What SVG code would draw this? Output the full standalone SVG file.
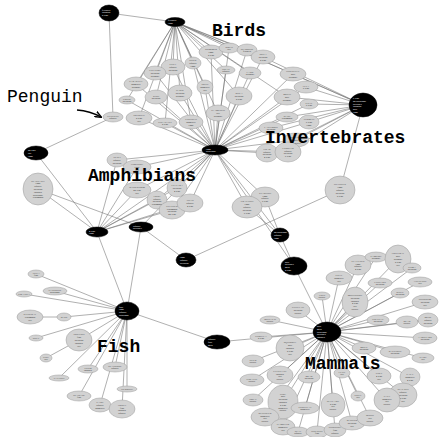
<svg xmlns="http://www.w3.org/2000/svg" width="439" height="437" viewBox="0 0 439 437">
<style>
.e{stroke:#6e6e6e;stroke-width:.55;fill:none}
.n ellipse{fill:#d2d2d2;stroke:#9a9a9a;stroke-width:.5}
.n text{font-family:"Liberation Serif",serif;font-size:2.6px;fill:#303030;text-anchor:middle}
.h ellipse{fill:#000;stroke:#000;stroke-width:.5}
.h text{font-family:"Liberation Serif",serif;font-size:2.6px;fill:#fff}
.lab{font-family:"Liberation Mono","DejaVu Sans Mono",monospace;font-size:18px;font-weight:bold;fill:#000}
.lab2{font-family:"Liberation Mono","DejaVu Sans Mono",monospace;font-size:18px;fill:#000}
</style>
<defs>
<marker id="ah" viewBox="0 0 10 10" refX="9" refY="5" markerWidth="7" markerHeight="7" markerUnits="userSpaceOnUse" orient="auto"><path d="M0 1L10 5L0 9" fill="none" stroke="#000" stroke-width="2"/></marker>
</defs>
<rect width="439" height="437" fill="#fff"/>
<g id="connectors">
<path class="e" d="M175 22L211 52M175 22L229 48M175 22L247 50M175 22L263 57M175 22L226 70M175 22L250 73M175 22L193 63M175 22L173 67M175 22L155 73M175 22L136 84M175 22L180 93M175 22L205 87M175 22L239 96M175 22L156 97M175 22L127 100M175 22L139 118M175 22L165 123M175 22L191 122M175 22L218 113"/>
<path class="e" d="M211 52L215 150M229 48L215 150M247 50L215 150M263 57L215 150M226 70L215 150M250 73L215 150M193 63L215 150M173 67L215 150M155 73L215 150M136 84L215 150M180 93L215 150M205 87L215 150M239 96L215 150M156 97L215 150M127 100L215 150M139 118L215 150M165 123L215 150M191 122L215 150M218 113L215 150"/>
<path class="e" d="M175 22L363 105M263 57L363 105M175 22L293 74M175 22L287 97M109 13L175 22M109 13L113 117M113 117L36 153"/>
<path class="e" d="M363 105L293 74M363 105L306 87M363 105L287 97M363 105L309 104M363 105L287 117M363 105L309 122M363 105L271 128M363 105L296 140M363 105L267 153M363 105L288 152"/>
<path class="e" d="M293 74L215 150M306 87L215 150M287 97L215 150M309 104L215 150M287 117L215 150M309 122L215 150M271 128L215 150M296 140L215 150M267 153L215 150M288 152L215 150"/>
<path class="e" d="M363 105L340 190M340 190L186 260M215 150L265 197M215 150L247 207M265 197L280 235M247 207L280 235M215 150L280 235M215 150L294 266M280 235L294 266M294 266L327 332"/>
<path class="e" d="M97 232L117 160M97 232L137 167M97 232L137 190M97 232L157 200M97 232L177 188M97 232L172 210M97 232L190 203M97 232L215 150M117 160L215 150M137 167L215 150M137 190L215 150M157 200L215 150M177 188L215 150M172 210L215 150M190 203L215 150M141 227L215 150"/>
<path class="e" d="M36 153L97 232M38 189L97 232M38 189L141 227M141 227L186 260M97 232L127 311M141 227L127 311M127 311L217 342M217 342L327 332"/>
<path class="e" d="M127 311L36 274M127 311L55 291M127 311L24 294M127 311L64 317M64 317L30 317M127 311L36 338M127 311L79 340M79 340L46 358M127 311L59 378M127 311L88 369M127 311L115 367M127 311L127 389M127 311L79 396M127 311L100 405M127 311L122 409"/>
<path class="e" d="M327 332L358 265M327 332L376 257M327 332L398 259M327 332L412 268M327 332L339 278M327 332L380 283M327 332L420 282M327 332L355 302M327 332L322 296M327 332L400 293M327 332L425 302M327 332L378 320M327 332L407 322M327 332L428 320M327 332L298 310M327 332L270 320M327 332L425 338M327 332L261 337M327 332L290 348M327 332L364 348M327 332L395 352M327 332L423 358M327 332L253 361M327 332L280 375M327 332L252 380M327 332L309 377M327 332L342 373M327 332L379 376M327 332L410 377M327 332L403 395M327 332L387 400M327 332L253 400M327 332L283 402M327 332L358 396M327 332L333 405M327 332L305 408M327 332L265 417M327 332L283 427M327 332L298 432M327 332L317 432M327 332L335 430M327 332L352 423M327 332L370 418M398 259L412 268M407 322L428 320"/>
<path d="M77 110Q90 111 101 117" fill="none" stroke="#000" stroke-width="1.4" marker-end="url(#ah)"/>
</g>
<g id="hub-a" class="h"><ellipse cx="109" cy="13" rx="10" ry="8"/><text x="102" y="10.5">feathers<tspan x="102" dy="2.8">airborne</tspan><tspan x="102" dy="2.8">2 legs</tspan></text></g>
<g id="hub-b" class="h"><ellipse cx="175" cy="22" rx="10" ry="4.5"/><text x="168" y="21">feathers<tspan x="168" dy="2.8">eggs</tspan></text></g>
<g id="hub-c" class="h"><ellipse cx="363" cy="105" rx="14" ry="12"/><text x="353" y="99">6 legs<tspan x="353" dy="2.8">no backbone</tspan><tspan x="353" dy="2.8">breathes</tspan><tspan x="353" dy="2.8">airborne</tspan><tspan x="353" dy="2.8">hair</tspan><tspan x="353" dy="2.8">eggs</tspan></text></g>
<g id="hub-d" class="h"><ellipse cx="36" cy="153" rx="12" ry="7"/><text x="28" y="151">no legs<tspan x="28" dy="2.8">tail</tspan><tspan x="28" dy="2.8">eggs</tspan></text></g>
<g id="hub-e" class="h"><ellipse cx="97" cy="232" rx="11" ry="5"/><text x="89" y="231.5">4 legs<tspan x="89" dy="2.8">eggs</tspan></text></g>
<g id="hub-f" class="h"><ellipse cx="141" cy="227" rx="12" ry="5"/><text x="133" y="226.5">aquatic<tspan x="133" dy="2.8">breathes</tspan></text></g>
<g id="hub-g" class="h"><ellipse cx="186" cy="260" rx="10" ry="7"/><text x="180" y="258">eggs<tspan x="180" dy="2.8">aquatic</tspan><tspan x="180" dy="2.8">predator</tspan></text></g>
<g id="hub-h" class="h"><ellipse cx="280" cy="235" rx="9" ry="7"/><text x="274" y="233">no backbone<tspan x="274" dy="2.8">aquatic</tspan><tspan x="274" dy="2.8">eggs</tspan></text></g>
<g id="hub-i" class="h"><ellipse cx="294" cy="266" rx="13" ry="9"/><text x="285" y="262.5">hair<tspan x="285" dy="2.8">breathes</tspan><tspan x="285" dy="2.8">milk</tspan><tspan x="285" dy="2.8">4 legs</tspan></text></g>
<g id="hub-fish" class="h"><ellipse cx="127" cy="311" rx="12" ry="9"/><text x="119" y="307.5">fins<tspan x="119" dy="2.8">eggs</tspan><tspan x="119" dy="2.8">aquatic</tspan><tspan x="119" dy="2.8">backbone</tspan></text></g>
<g id="hub-k" class="h"><ellipse cx="217" cy="342" rx="13" ry="7"/><text x="208" y="340">aquatic<tspan x="208" dy="2.8">fins</tspan><tspan x="208" dy="2.8">milk</tspan></text></g>
<g id="hub-mammals" class="h"><ellipse cx="327" cy="332" rx="14" ry="10"/><text x="317" y="327">hair<tspan x="317" dy="2.8">milk</tspan><tspan x="317" dy="2.8">backbone</tspan><tspan x="317" dy="2.8">breathes</tspan><tspan x="317" dy="2.8">toothed</tspan></text></g>
<g id="hub-central" class="h"><ellipse cx="215" cy="150" rx="13" ry="5"/><text x="206" y="149.5">eggs<tspan x="206" dy="2.8">backbone</tspan></text></g>
<g id="skimmer" class="n"><ellipse cx="211" cy="52" rx="12" ry="7"/><text x="211" y="50">SKIMMER<tspan x="211" dy="2.8">eggs</tspan><tspan x="211" dy="2.8">2 legs</tspan></text></g>
<g id="wren" class="n"><ellipse cx="229" cy="48" rx="10" ry="5"/><text x="229" y="47.5">WREN<tspan x="229" dy="2.8">tail</tspan></text></g>
<g id="sparrow" class="n"><ellipse cx="247" cy="50" rx="10" ry="6"/><text x="247" y="49.5">SPARROW<tspan x="247" dy="2.8">feathers</tspan></text></g>
<g id="skua" class="n"><ellipse cx="263" cy="57" rx="12" ry="7"/><text x="263" y="55">SKUA<tspan x="263" dy="2.8">predator</tspan><tspan x="263" dy="2.8">2 legs</tspan></text></g>
<g id="swan" class="n"><ellipse cx="226" cy="70" rx="9" ry="4"/><text x="226" y="69.5">SWAN<tspan x="226" dy="2.8">aquatic</tspan></text></g>
<g id="lark" class="n"><ellipse cx="250" cy="73" rx="11" ry="6"/><text x="250" y="72.5">LARK<tspan x="250" dy="2.8">airborne</tspan></text></g>
<g id="duck" class="n"><ellipse cx="193" cy="63" rx="8" ry="6"/><text x="193" y="61">DUCK<tspan x="193" dy="2.8">aquatic</tspan><tspan x="193" dy="2.8">eggs</tspan></text></g>
<g id="gull" class="n"><ellipse cx="173" cy="67" rx="12" ry="8"/><text x="173" y="65">GULL<tspan x="173" dy="2.8">aquatic</tspan><tspan x="173" dy="2.8">predator</tspan></text></g>
<g id="vulture" class="n"><ellipse cx="155" cy="73" rx="11" ry="7"/><text x="155" y="71">VULTURE<tspan x="155" dy="2.8">predator</tspan><tspan x="155" dy="2.8">airborne</tspan></text></g>
<g id="parakeet" class="n"><ellipse cx="136" cy="84" rx="12" ry="7"/><text x="136" y="82">PARAKEET<tspan x="136" dy="2.8">domestic</tspan><tspan x="136" dy="2.8">airborne</tspan></text></g>
<g id="hawk" class="n"><ellipse cx="180" cy="93" rx="12" ry="8"/><text x="180" y="91">HAWK<tspan x="180" dy="2.8">predator</tspan><tspan x="180" dy="2.8">airborne</tspan></text></g>
<g id="dove" class="n"><ellipse cx="205" cy="87" rx="8" ry="7"/><text x="205" y="85">DOVE<tspan x="205" dy="2.8">domestic</tspan><tspan x="205" dy="2.8">tail</tspan></text></g>
<g id="rhea" class="n"><ellipse cx="239" cy="96" rx="13" ry="9"/><text x="239" y="94">RHEA<tspan x="239" dy="2.8">predator</tspan><tspan x="239" dy="2.8">2 legs</tspan></text></g>
<g id="kiwi" class="n"><ellipse cx="156" cy="97" rx="11" ry="7"/><text x="156" y="96.5">KIWI<tspan x="156" dy="2.8">predator</tspan></text></g>
<g id="crow" class="n"><ellipse cx="127" cy="100" rx="8" ry="4"/><text x="127" y="99.5">CROW<tspan x="127" dy="2.8">predator</tspan></text></g>
<g id="penguin" class="n"><ellipse cx="113" cy="117" rx="10" ry="5"/><text x="113" y="116.5">PENGUIN<tspan x="113" dy="2.8">aquatic</tspan></text></g>
<g id="ostrich" class="n"><ellipse cx="139" cy="118" rx="13" ry="7"/><text x="139" y="116">OSTRICH<tspan x="139" dy="2.8">2 legs</tspan><tspan x="139" dy="2.8">tail</tspan></text></g>
<g id="pheasant" class="n"><ellipse cx="165" cy="123" rx="12" ry="5"/><text x="165" y="122.5">PHEASANT<tspan x="165" dy="2.8">2 legs</tspan></text></g>
<g id="chicken" class="n"><ellipse cx="191" cy="122" rx="12" ry="7"/><text x="191" y="120">CHICKEN<tspan x="191" dy="2.8">domestic</tspan><tspan x="191" dy="2.8">eggs</tspan></text></g>
<g id="flamingo" class="n"><ellipse cx="218" cy="113" rx="12" ry="8"/><text x="218" y="111">FLAMINGO<tspan x="218" dy="2.8">tail</tspan><tspan x="218" dy="2.8">airborne</tspan></text></g>
<g id="housefly" class="n"><ellipse cx="293" cy="74" rx="13" ry="7"/><text x="293" y="72">HOUSEFLY<tspan x="293" dy="2.8">hair</tspan><tspan x="293" dy="2.8">airborne</tspan></text></g>
<g id="flea" class="n"><ellipse cx="306" cy="87" rx="12" ry="6"/><text x="306" y="86.5">FLEA<tspan x="306" dy="2.8">6 legs</tspan></text></g>
<g id="moth" class="n"><ellipse cx="287" cy="97" rx="13" ry="8"/><text x="287" y="95">MOTH<tspan x="287" dy="2.8">hair</tspan><tspan x="287" dy="2.8">airborne</tspan></text></g>
<g id="gnat" class="n"><ellipse cx="309" cy="104" rx="9" ry="5"/><text x="309" y="103.5">GNAT<tspan x="309" dy="2.8">6 legs</tspan></text></g>
<g id="wasp" class="n"><ellipse cx="287" cy="117" rx="11" ry="5"/><text x="287" y="116.5">WASP<tspan x="287" dy="2.8">venomous</tspan></text></g>
<g id="termite" class="n"><ellipse cx="309" cy="122" rx="10" ry="7"/><text x="309" y="120">TERMITE<tspan x="309" dy="2.8">6 legs</tspan><tspan x="309" dy="2.8">eggs</tspan></text></g>
<g id="ladybird" class="n"><ellipse cx="271" cy="128" rx="12" ry="6"/><text x="271" y="127.5">LADYBIRD<tspan x="271" dy="2.8">predator</tspan></text></g>
<g id="honeybee" class="n"><ellipse cx="296" cy="140" rx="13" ry="7"/><text x="296" y="138">HONEYBEE<tspan x="296" dy="2.8">hair</tspan><tspan x="296" dy="2.8">domestic</tspan></text></g>
<g id="crab" class="n"><ellipse cx="267" cy="153" rx="11" ry="9"/><text x="267" y="149.7">CRAB<tspan x="267" dy="2.8">aquatic</tspan><tspan x="267" dy="2.8">predator</tspan><tspan x="267" dy="2.8">4 legs</tspan></text></g>
<g id="lobster" class="n"><ellipse cx="288" cy="152" rx="13" ry="10"/><text x="288" y="148.7">LOBSTER<tspan x="288" dy="2.8">aquatic</tspan><tspan x="288" dy="2.8">predator</tspan><tspan x="288" dy="2.8">6 legs</tspan></text></g>
<g id="octopus" class="n"><ellipse cx="340" cy="190" rx="15" ry="14"/><text x="340" y="185.3">OCTOPUS<tspan x="340" dy="2.8">eggs</tspan><tspan x="340" dy="2.8">aquatic</tspan><tspan x="340" dy="2.8">predator</tspan><tspan x="340" dy="2.8">8 legs</tspan></text></g>
<g id="starfish" class="n"><ellipse cx="265" cy="197" rx="14" ry="10"/><text x="265" y="193.7">STARFISH<tspan x="265" dy="2.8">eggs</tspan><tspan x="265" dy="2.8">aquatic</tspan><tspan x="265" dy="2.8">5 legs</tspan></text></g>
<g id="crayfish" class="n"><ellipse cx="247" cy="207" rx="15" ry="11"/><text x="247" y="202.3">CRAYFISH<tspan x="247" dy="2.8">eggs</tspan><tspan x="247" dy="2.8">aquatic</tspan><tspan x="247" dy="2.8">predator</tspan><tspan x="247" dy="2.8">6 legs</tspan></text></g>
<g id="newt" class="n"><ellipse cx="117" cy="160" rx="10" ry="7"/><text x="117" y="158">NEWT<tspan x="117" dy="2.8">aquatic</tspan><tspan x="117" dy="2.8">predator</tspan></text></g>
<g id="tortoise" class="n"><ellipse cx="137" cy="167" rx="14" ry="7"/><text x="137" y="165">TORTOISE<tspan x="137" dy="2.8">eggs</tspan><tspan x="137" dy="2.8">tail</tspan></text></g>
<g id="slowworm" class="n"><ellipse cx="137" cy="190" rx="14" ry="8"/><text x="137" y="188">SLOWWORM<tspan x="137" dy="2.8">no legs</tspan><tspan x="137" dy="2.8">tail</tspan></text></g>
<g id="frog" class="n"><ellipse cx="157" cy="200" rx="10" ry="9"/><text x="157" y="196.7">FROG<tspan x="157" dy="2.8">aquatic</tspan><tspan x="157" dy="2.8">predator</tspan><tspan x="157" dy="2.8">venomous</tspan></text></g>
<g id="tuatara" class="n"><ellipse cx="177" cy="188" rx="10" ry="9"/><text x="177" y="186">TUATARA<tspan x="177" dy="2.8">predator</tspan><tspan x="177" dy="2.8">4 legs</tspan></text></g>
<g id="pitviper" class="n"><ellipse cx="172" cy="210" rx="13" ry="9"/><text x="172" y="206.7">PITVIPER<tspan x="172" dy="2.8">venomous</tspan><tspan x="172" dy="2.8">predator</tspan><tspan x="172" dy="2.8">no legs</tspan></text></g>
<g id="toad" class="n"><ellipse cx="190" cy="203" rx="13" ry="9"/><text x="190" y="201">TOAD<tspan x="190" dy="2.8">aquatic</tspan><tspan x="190" dy="2.8">4 legs</tspan></text></g>
<g id="seasnake" class="n"><ellipse cx="38" cy="189" rx="15" ry="16"/><text x="38" y="181.5">SEASNAKE<tspan x="38" dy="2.8">eggs</tspan><tspan x="38" dy="2.8">aquatic</tspan><tspan x="38" dy="2.8">predator</tspan><tspan x="38" dy="2.8">toothed</tspan><tspan x="38" dy="2.8">backbone</tspan><tspan x="38" dy="2.8">venomous</tspan></text></g>
<g id="tuna" class="n"><ellipse cx="36" cy="274" rx="8" ry="4"/><text x="36" y="273.5">TUNA<tspan x="36" dy="2.8">fins</tspan></text></g>
<g id="haddock" class="n"><ellipse cx="55" cy="291" rx="12" ry="4"/><text x="55" y="290.5">HADDOCK<tspan x="55" dy="2.8">backbone</tspan></text></g>
<g id="piranha" class="n"><ellipse cx="24" cy="294" rx="8" ry="3"/><text x="24" y="295">PIRANHA</text></g>
<g id="stingray" class="n"><ellipse cx="30" cy="317" rx="13" ry="7"/><text x="30" y="315">STINGRAY<tspan x="30" dy="2.8">venomous</tspan><tspan x="30" dy="2.8">tail</tspan></text></g>
<g id="bass" class="n"><ellipse cx="64" cy="317" rx="7" ry="4"/><text x="64" y="318">BASS</text></g>
<g id="sole" class="n"><ellipse cx="36" cy="338" rx="7" ry="3"/><text x="36" y="339">SOLE</text></g>
<g id="dogfish" class="n"><ellipse cx="79" cy="340" rx="13" ry="11"/><text x="79" y="335.3">DOGFISH<tspan x="79" dy="2.8">fins</tspan><tspan x="79" dy="2.8">predator</tspan><tspan x="79" dy="2.8">toothed</tspan><tspan x="79" dy="2.8">tail</tspan></text></g>
<g id="pike" class="n"><ellipse cx="46" cy="358" rx="6" ry="4"/><text x="46" y="357.5">PIKE<tspan x="46" dy="2.8">tail</tspan></text></g>
<g id="catfish" class="n"><ellipse cx="59" cy="378" rx="10" ry="3"/><text x="59" y="379">CATFISH</text></g>
<g id="chub" class="n"><ellipse cx="88" cy="369" rx="10" ry="4"/><text x="88" y="368.5">CHUB<tspan x="88" dy="2.8">toothed</tspan></text></g>
<g id="seahorse" class="n"><ellipse cx="115" cy="367" rx="12" ry="5"/><text x="115" y="366.5">SEAHORSE<tspan x="115" dy="2.8">aquatic</tspan></text></g>
<g id="herring" class="n"><ellipse cx="127" cy="389" rx="10" ry="3"/><text x="127" y="390">HERRING</text></g>
<g id="seawasp" class="n"><ellipse cx="79" cy="396" rx="12" ry="5"/><text x="79" y="395.5">SEAWASP<tspan x="79" dy="2.8">fins</tspan></text></g>
<g id="carp" class="n"><ellipse cx="100" cy="405" rx="11" ry="7"/><text x="100" y="403">CARP<tspan x="100" dy="2.8">aquatic</tspan><tspan x="100" dy="2.8">domestic</tspan></text></g>
<g id="trout" class="n"><ellipse cx="122" cy="409" rx="13" ry="9"/><text x="122" y="405.7">TROUT<tspan x="122" dy="2.8">fins</tspan><tspan x="122" dy="2.8">toothed</tspan><tspan x="122" dy="2.8">aquatic</tspan></text></g>
<g id="platypus" class="n"><ellipse cx="358" cy="265" rx="13" ry="10"/><text x="358" y="261.7">PLATYPUS<tspan x="358" dy="2.8">eggs</tspan><tspan x="358" dy="2.8">aquatic</tspan><tspan x="358" dy="2.8">4 legs</tspan></text></g>
<g id="vampire" class="n"><ellipse cx="376" cy="257" rx="11" ry="5"/><text x="376" y="256.5">VAMPIRE<tspan x="376" dy="2.8">airborne</tspan></text></g>
<g id="fruitbat" class="n"><ellipse cx="398" cy="259" rx="13" ry="14"/><text x="398" y="254.3">FRUITBAT<tspan x="398" dy="2.8">hair</tspan><tspan x="398" dy="2.8">airborne</tspan><tspan x="398" dy="2.8">2 legs</tspan><tspan x="398" dy="2.8">tail</tspan></text></g>
<g id="puma" class="n"><ellipse cx="412" cy="268" rx="9" ry="5"/><text x="412" y="267.5">PUMA<tspan x="412" dy="2.8">predator</tspan></text></g>
<g id="goat" class="n"><ellipse cx="339" cy="278" rx="13" ry="7"/><text x="339" y="276">GOAT<tspan x="339" dy="2.8">domestic</tspan><tspan x="339" dy="2.8">tail</tspan></text></g>
<g id="leopard" class="n"><ellipse cx="380" cy="283" rx="12" ry="5"/><text x="380" y="282.5">LEOPARD<tspan x="380" dy="2.8">predator</tspan></text></g>
<g id="antelope" class="n"><ellipse cx="420" cy="282" rx="12" ry="5"/><text x="420" y="281.5">ANTELOPE<tspan x="420" dy="2.8">tail</tspan></text></g>
<g id="mongoose" class="n"><ellipse cx="355" cy="302" rx="13" ry="15"/><text x="355" y="296">MONGOOSE<tspan x="355" dy="2.8">predator</tspan><tspan x="355" dy="2.8">toothed</tspan><tspan x="355" dy="2.8">4 legs</tspan><tspan x="355" dy="2.8">tail</tspan><tspan x="355" dy="2.8">catsize</tspan></text></g>
<g id="lion" class="n"><ellipse cx="322" cy="296" rx="8" ry="4"/><text x="322" y="295.5">LION<tspan x="322" dy="2.8">catsize</tspan></text></g>
<g id="wolf" class="n"><ellipse cx="400" cy="293" rx="9" ry="5"/><text x="400" y="292.5">WOLF<tspan x="400" dy="2.8">predator</tspan></text></g>
<g id="opossum" class="n"><ellipse cx="425" cy="302" rx="13" ry="7"/><text x="425" y="300">OPOSSUM<tspan x="425" dy="2.8">predator</tspan><tspan x="425" dy="2.8">tail</tspan></text></g>
<g id="polecat" class="n"><ellipse cx="378" cy="320" rx="11" ry="5"/><text x="378" y="319.5">POLECAT<tspan x="378" dy="2.8">predator</tspan></text></g>
<g id="bear" class="n"><ellipse cx="407" cy="322" rx="11" ry="6"/><text x="407" y="321.5">BEAR<tspan x="407" dy="2.8">catsize</tspan></text></g>
<g id="mink" class="n"><ellipse cx="428" cy="320" rx="10" ry="7"/><text x="428" y="318">MINK<tspan x="428" dy="2.8">aquatic</tspan><tspan x="428" dy="2.8">predator</tspan></text></g>
<g id="cheetah" class="n"><ellipse cx="298" cy="310" rx="12" ry="8"/><text x="298" y="308">CHEETAH<tspan x="298" dy="2.8">predator</tspan><tspan x="298" dy="2.8">catsize</tspan></text></g>
<g id="buffalo" class="n"><ellipse cx="270" cy="320" rx="10" ry="4"/><text x="270" y="319.5">BUFFALO<tspan x="270" dy="2.8">catsize</tspan></text></g>
<g id="aardvark" class="n"><ellipse cx="425" cy="338" rx="12" ry="6"/><text x="425" y="337.5">AARDVARK<tspan x="425" dy="2.8">predator</tspan></text></g>
<g id="gorilla" class="n"><ellipse cx="261" cy="337" rx="11" ry="5"/><text x="261" y="336.5">GORILLA<tspan x="261" dy="2.8">2 legs</tspan></text></g>
<g id="squirrel" class="n"><ellipse cx="290" cy="348" rx="14" ry="13"/><text x="290" y="343.3">SQUIRREL<tspan x="290" dy="2.8">hair</tspan><tspan x="290" dy="2.8">toothed</tspan><tspan x="290" dy="2.8">2 legs</tspan><tspan x="290" dy="2.8">tail</tspan></text></g>
<g id="mole" class="n"><ellipse cx="364" cy="348" rx="12" ry="6"/><text x="364" y="347.5">MOLE<tspan x="364" dy="2.8">predator</tspan></text></g>
<g id="raccoon" class="n"><ellipse cx="395" cy="352" rx="15" ry="6"/><text x="395" y="351.5">RACCOON<tspan x="395" dy="2.8">predator</tspan></text></g>
<g id="hare" class="n"><ellipse cx="423" cy="358" rx="11" ry="5"/><text x="423" y="357.5">HARE<tspan x="423" dy="2.8">tail</tspan></text></g>
<g id="deer" class="n"><ellipse cx="253" cy="361" rx="11" ry="6"/><text x="253" y="360.5">DEER<tspan x="253" dy="2.8">catsize</tspan></text></g>
<g id="elephant" class="n"><ellipse cx="280" cy="375" rx="13" ry="9"/><text x="280" y="371.7">ELEPHANT<tspan x="280" dy="2.8">toothed</tspan><tspan x="280" dy="2.8">tail</tspan><tspan x="280" dy="2.8">catsize</tspan></text></g>
<g id="giraffe" class="n"><ellipse cx="252" cy="380" rx="12" ry="6"/><text x="252" y="379.5">GIRAFFE<tspan x="252" dy="2.8">catsize</tspan></text></g>
<g id="boar" class="n"><ellipse cx="309" cy="377" rx="11" ry="6"/><text x="309" y="376.5">BOAR<tspan x="309" dy="2.8">predator</tspan></text></g>
<g id="lynx" class="n"><ellipse cx="342" cy="373" rx="8" ry="5"/><text x="342" y="372.5">LYNX<tspan x="342" dy="2.8">tail</tspan></text></g>
<g id="vole" class="n"><ellipse cx="379" cy="376" rx="12" ry="8"/><text x="379" y="374">VOLE<tspan x="379" dy="2.8">4 legs</tspan><tspan x="379" dy="2.8">tail</tspan></text></g>
<g id="cavy" class="n"><ellipse cx="410" cy="377" rx="10" ry="9"/><text x="410" y="375">CAVY<tspan x="410" dy="2.8">domestic</tspan><tspan x="410" dy="2.8">4 legs</tspan></text></g>
<g id="sealion" class="n"><ellipse cx="403" cy="395" rx="14" ry="12"/><text x="403" y="390.3">SEALION<tspan x="403" dy="2.8">aquatic</tspan><tspan x="403" dy="2.8">predator</tspan><tspan x="403" dy="2.8">2 legs</tspan><tspan x="403" dy="2.8">tail</tspan></text></g>
<g id="calf" class="n"><ellipse cx="387" cy="400" rx="13" ry="12"/><text x="387" y="396.7">CALF<tspan x="387" dy="2.8">domestic</tspan><tspan x="387" dy="2.8">tail</tspan><tspan x="387" dy="2.8">catsize</tspan></text></g>
<g id="oryx" class="n"><ellipse cx="253" cy="400" rx="10" ry="6"/><text x="253" y="399.5">ORYX<tspan x="253" dy="2.8">catsize</tspan></text></g>
<g id="girl" class="n"><ellipse cx="283" cy="402" rx="15" ry="17"/><text x="283" y="394.5">GIRL<tspan x="283" dy="2.8">hair</tspan><tspan x="283" dy="2.8">predator</tspan><tspan x="283" dy="2.8">toothed</tspan><tspan x="283" dy="2.8">2 legs</tspan><tspan x="283" dy="2.8">domestic</tspan><tspan x="283" dy="2.8">catsize</tspan></text></g>
<g id="pony" class="n"><ellipse cx="358" cy="396" rx="7" ry="5"/><text x="358" y="395.5">PONY<tspan x="358" dy="2.8">tail</tspan></text></g>
<g id="wallaby" class="n"><ellipse cx="333" cy="405" rx="12" ry="12"/><text x="333" y="401.7">WALLABY<tspan x="333" dy="2.8">2 legs</tspan><tspan x="333" dy="2.8">tail</tspan><tspan x="333" dy="2.8">catsize</tspan></text></g>
<g id="pussycat" class="n"><ellipse cx="305" cy="408" rx="14" ry="6"/><text x="305" y="407.5">PUSSYCAT<tspan x="305" dy="2.8">domestic</tspan></text></g>
<g id="reindeer" class="n"><ellipse cx="265" cy="417" rx="14" ry="9"/><text x="265" y="413.7">REINDEER<tspan x="265" dy="2.8">domestic</tspan><tspan x="265" dy="2.8">tail</tspan><tspan x="265" dy="2.8">catsize</tspan></text></g>
<g id="hamster" class="n"><ellipse cx="283" cy="427" rx="12" ry="8"/><text x="283" y="425">HAMSTER<tspan x="283" dy="2.8">domestic</tspan><tspan x="283" dy="2.8">tail</tspan></text></g>
<g id="seal" class="n"><ellipse cx="298" cy="432" rx="11" ry="5"/><text x="298" y="431.5">SEAL<tspan x="298" dy="2.8">aquatic</tspan></text></g>
<g id="dolphin" class="n"><ellipse cx="317" cy="432" rx="11" ry="6"/><text x="317" y="431.5">DOLPHIN<tspan x="317" dy="2.8">fins</tspan></text></g>
<g id="porpoise" class="n"><ellipse cx="335" cy="430" rx="11" ry="7"/><text x="335" y="428">PORPOISE<tspan x="335" dy="2.8">fins</tspan><tspan x="335" dy="2.8">aquatic</tspan></text></g>
<g id="badger" class="n"><ellipse cx="352" cy="423" rx="13" ry="7"/><text x="352" y="421">BADGER<tspan x="352" dy="2.8">predator</tspan><tspan x="352" dy="2.8">tail</tspan></text></g>
<g id="bison" class="n"><ellipse cx="370" cy="418" rx="13" ry="8"/><text x="370" y="416">BISON<tspan x="370" dy="2.8">tail</tspan><tspan x="370" dy="2.8">catsize</tspan></text></g>
<g id="labels">
<text class="lab" x="212" y="36">Birds</text>
<text class="lab2" x="7" y="102">Penguin</text>
<text class="lab" x="265" y="143">Invertebrates</text>
<text class="lab" x="88" y="181">Amphibians</text>
<text class="lab" x="97" y="352">Fish</text>
<text class="lab" x="305" y="369">Mammals</text>
</g>
</svg>
